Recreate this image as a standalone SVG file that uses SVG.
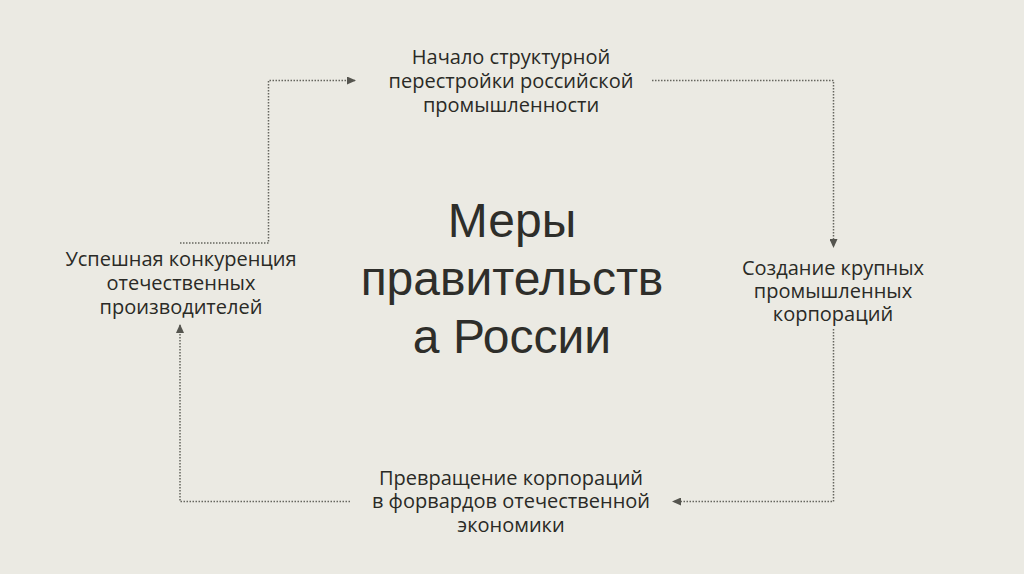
<svg xmlns="http://www.w3.org/2000/svg" width="1024" height="574" viewBox="0 0 1024 574">
<style>
.t{font-family:"Open Sans","DejaVu Sans",sans-serif;font-size:20px;fill:#2a2a26;text-anchor:middle}
.h{font-family:"Liberation Sans",Arial,sans-serif;font-size:48px;fill:#2e2e2a;text-anchor:middle}
.c{fill:none;stroke:#66665f;stroke-width:1.5;stroke-dasharray:1.5 1.5}
</style>
<defs>
<marker id="ah" markerWidth="9" markerHeight="8" refX="8" refY="4" orient="auto" markerUnits="userSpaceOnUse">
<path d="M0,0 L9,4 L0,8 Z" fill="#55554f"/>
</marker>
</defs>
<rect width="1024" height="574" fill="#ebeae3"/>
<g id="connectors">
<path class="c" d="M180,243 H268.5 V80.5 H355" marker-end="url(#ah)"/>
<path class="c" d="M652,80.5 H833.5 V247" marker-end="url(#ah)"/>
<path class="c" d="M833.5,329 V501.5 H673" marker-end="url(#ah)"/>
<path class="c" d="M350,501.5 H180 V325" marker-end="url(#ah)"/>
</g>
<g id="title">
<text class="h" x="512" y="237">Меры</text>
<text class="h" x="512" y="295">правительств</text>
<text class="h" x="512" y="353">а России</text>
</g>
<g id="node-top">
<text class="t" x="511" y="64">Начало структурной</text>
<text class="t" x="511" y="88">перестройки российской</text>
<text class="t" x="511" y="112">промышленности</text>
</g>
<g id="node-right">
<text class="t" x="833" y="275">Создание крупных</text>
<text class="t" x="833" y="298">промышленных</text>
<text class="t" x="833" y="321">корпораций</text>
</g>
<g id="node-bottom">
<text class="t" x="511" y="485">Превращение корпораций</text>
<text class="t" x="511" y="508">в форвардов отечественной</text>
<text class="t" x="511" y="532">экономики</text>
</g>
<g id="node-left">
<text class="t" x="181" y="266">Успешная конкуренция</text>
<text class="t" x="181" y="290">отечественных</text>
<text class="t" x="181" y="314">производителей</text>
</g>
</svg>
